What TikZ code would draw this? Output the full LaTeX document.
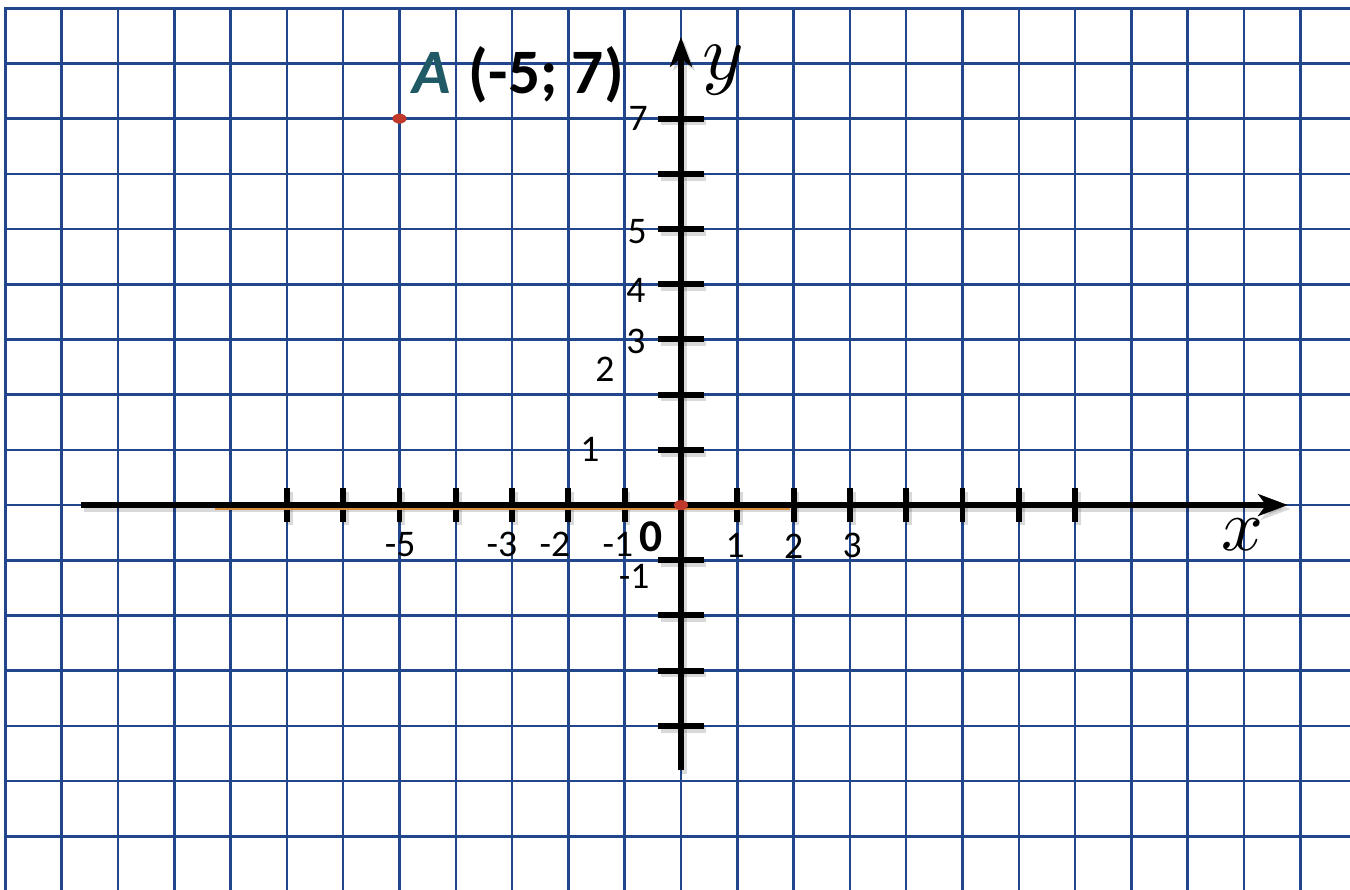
\documentclass[tikz,border=0pt]{standalone}
\definecolor{gridblue}{HTML}{21468C}
\definecolor{pointred}{HTML}{C0392B}
\definecolor{pointteal}{HTML}{1F5A66}
\definecolor{segorange}{HTML}{D98A3A}
\usepackage{graphicx}
\usepackage{fontspec}
\setmainfont{Carlito}
\usepackage{tikz}
\usetikzlibrary{arrows.meta, positioning}

\tikzset{
  gridline/.style={gridblue, line width=1.3pt, line cap=rect},
  axisline/.style={black, line width=3pt},
  tickline/.style={black, line width=3pt},
  segline/.style={segorange, line width=1pt},
  numlabel/.style={font=\fontsize{19}{19}\selectfont, inner sep=0pt},
  varlabel/.style={inner sep=0pt},
  dotmark/.style={fill=pointred, draw=none},
}

\begin{document}
\begin{tikzpicture}[x=1cm, y=0.9805cm, >={Stealth[length=15pt, width=11pt, inset=4pt]}]
  \useasboundingbox[fill=white] (-12.096,-6.957) rectangle (11.883,9.149);

  % Grid
  \foreach \i in {-12,...,11}
    \draw[gridline] (\i,-7.2) -- (\i,9);
  \foreach \j in {-6,...,9}
    \draw[gridline] (-12,\j) -- (12.2,\j);

  % Axes (shadow pass, then the axes)
  \coordinate (xstart) at (-10.66,0);
  \coordinate (xend) at (10.78,0);
  \coordinate (ystart) at (0,-4.80);
  \coordinate (yend) at (0,8.48);
  \foreach \dx/\dy/\op in {0.05/-0.07/0.15, 0/0/1} {
    \begin{scope}[transform canvas={shift={(\dx,\dy)}}, opacity=\op]
      \draw[axisline,->] (xstart) -- (xend);
      \draw[axisline,->] (ystart) -- (yend);
      \foreach \i in {-7,...,-1,1,2,...,7}
        \draw[tickline] (\i,-0.3) -- (\i,0.3);
      \foreach \j in {-4,...,-1,1,2,...,7}
        \draw[tickline] (-0.4,\j) -- (0.4,\j);
    \end{scope}
  }

  % Segment on the x axis
  \coordinate (segL) at (-8.28,-0.076);
  \coordinate (segR) at (1.94,-0.076);
  \draw[segline] (segL) -- (segR);

  % Numbers
  \foreach \x/\y/\t [count=\k] in {-4.99/-0.72/-5, -3.18/-0.72/-3, -2.24/-0.72/-2,
      -1.12/-0.71/-1, 0.96/-0.74/1, 2.00/-0.74/2, 3.04/-0.74/3}
    \node[numlabel] (xlab\k) at (\x,\y) {\t};
  \foreach \x/\y/\t [count=\k] in {-1.62/1.01/1, -1.35/2.46/2, -0.80/2.97/3,
      -0.80/3.89/4, -0.78/4.95/5, -0.76/7.01/7, -0.83/-1.29/-1}
    \node[numlabel] (ylab\k) at (\x,\y) {\t};
  \node[inner sep=0pt, font=\fontsize{23}{23}\selectfont\bfseries] (zero) at (-0.53,-0.58) {0};

  % Axis names
  \node[varlabel] (xvar) at (9.98,-0.53) {\scalebox{3.7}{$x$}};
  \node[varlabel] (yvar) at (0.75,7.88) {\scalebox{4}{$y$}};

  % Points
  \coordinate (orig) at (0,0);
  \coordinate (ptA) at (-5,7);
  \fill[dotmark] (orig) ellipse [x radius=0.125, y radius=0.09];
  \fill[dotmark] (ptA) ellipse [x radius=0.125, y radius=0.09];
  \node[anchor=base west, inner sep=0pt, font=\fontsize{32}{32}\selectfont\bfseries]
    (ptAlabel) at (-4.78,7.46) {\textcolor{pointteal}{\itshape A}\hspace{2pt} (-5; 7)};
\end{tikzpicture}
\end{document}
